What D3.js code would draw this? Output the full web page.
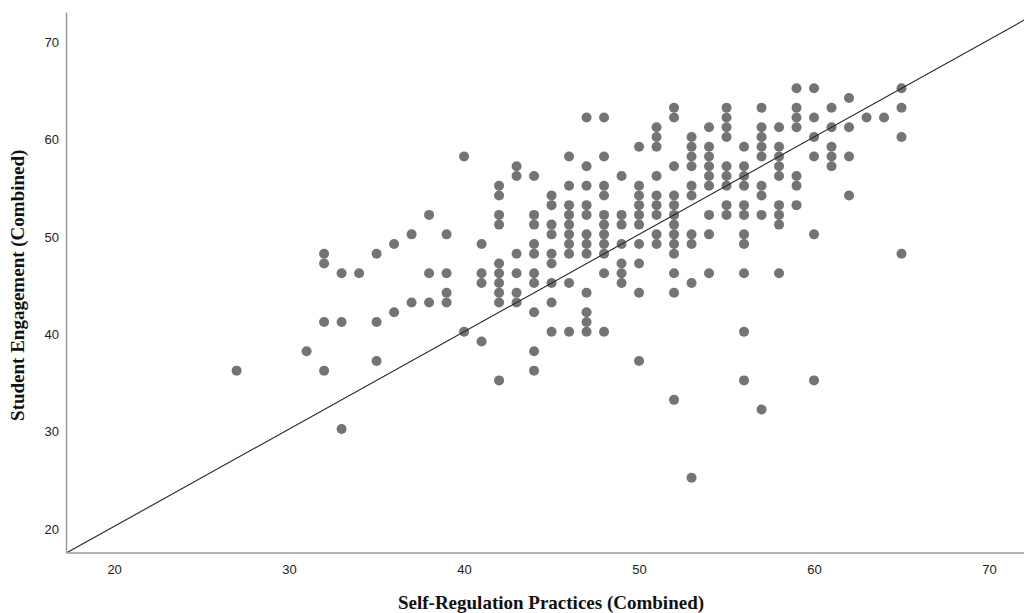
<!DOCTYPE html>
<html>
<head>
<meta charset="utf-8">
<script src="https://cdn.jsdelivr.net/npm/d3@7"></script>
<style>
  html, body { margin: 0; padding: 0; background: #ffffff; }
  svg { display: block; }
</style>
</head>
<body>
<svg id="chart" width="1024" height="613"></svg>
<script>
// Tick values for both axes
const xTicks = [20, 30, 40, 50, 60, 70];
const yTicks = [20, 30, 40, 50, 60, 70];

// Combined scores per student: self-regulation practices (x) and engagement (y)
const regulation = [
  27,
  31,
  32, 32, 32, 32,
  33, 33, 33,
  34,
  35, 35, 35,
  36, 36,
  37, 37,
  38, 38, 38,
  39, 39, 39, 39,
  40, 40,
  41, 41, 41, 41,
  42, 42, 42, 42, 42, 42, 42, 42, 42, 42,
  43, 43, 43, 43, 43, 43,
  44, 44, 44, 44, 44, 44, 44, 44, 44, 44,
  45, 45, 45, 45, 45, 45, 45, 45, 45,
  46, 46, 46, 46, 46, 46, 46, 46, 46, 46,
  47, 47, 47, 47, 47, 47, 47, 47, 47, 47, 47, 47,
  48, 48, 48, 48, 48, 48, 48, 48, 48, 48, 48,
  49, 49, 49, 49, 49, 49, 49,
  50, 50, 50, 50, 50, 50, 50, 50, 50, 50,
  51, 51, 51, 51, 51, 51, 51, 51, 51,
  52, 52, 52, 52, 52, 52, 52, 52, 52, 52, 52, 52, 52,
  53, 53, 53, 53, 53, 53, 53, 53, 53, 53,
  54, 54, 54, 54, 54, 54, 54, 54, 54,
  55, 55, 55, 55, 55, 55, 55, 55, 55,
  56, 56, 56, 56, 56, 56, 56, 56, 56, 56, 56,
  57, 57, 57, 57, 57, 57, 57, 57, 57,
  58, 58, 58, 58, 58, 58, 58, 58, 58,
  59, 59, 59, 59, 59, 59, 59,
  60, 60, 60, 60, 60, 60,
  61, 61, 61, 61, 61,
  62, 62, 62, 62,
  63,
  64,
  65, 65, 65, 65
];
const engagement = [
  36,
  38,
  48, 47, 41, 36,
  46, 41, 30,
  46,
  48, 41, 37,
  49, 42,
  50, 43,
  52, 46, 43,
  50, 46, 44, 43,
  58, 40,
  49, 46, 45, 39,
  55, 54, 52, 51, 47, 46, 45, 44, 43, 35,
  57, 56, 48, 46, 44, 43,
  56, 52, 51, 49, 48, 46, 45, 42, 38, 36,
  54, 53, 51, 50, 48, 47, 45, 43, 40,
  58, 55, 53, 52, 51, 50, 49, 48, 45, 40,
  62, 57, 55, 53, 52, 50, 49, 48, 44, 42, 41, 40,
  62, 58, 55, 54, 52, 51, 50, 49, 48, 46, 40,
  56, 52, 51, 49, 47, 46, 45,
  59, 55, 54, 53, 52, 51, 49, 47, 44, 37,
  61, 60, 59, 56, 54, 53, 52, 50, 49,
  63, 62, 57, 54, 53, 52, 51, 50, 49, 48, 46, 44, 33,
  60, 59, 58, 57, 55, 54, 50, 49, 45, 25,
  61, 59, 58, 57, 56, 55, 52, 50, 46,
  63, 62, 61, 60, 57, 56, 55, 53, 52,
  59, 57, 56, 55, 53, 52, 50, 49, 46, 40, 35,
  63, 61, 60, 59, 58, 55, 54, 52, 32,
  61, 59, 58, 57, 56, 53, 52, 51, 46,
  65, 63, 62, 61, 56, 55, 53,
  65, 62, 60, 58, 50, 35,
  63, 61, 59, 58, 57,
  64, 61, 58, 54,
  62,
  62,
  65, 63, 60, 48
];

// Reference line y = x, drawn between these two values
const identityLine = [15, 75];

const xLabel = "Self-Regulation Practices (Combined)";
const yLabel = "Student Engagement (Combined)";

const svg = d3.select("#chart");
const plot = { left: 66, right: 1024, top: 12, bottom: 552.5 };

const x = d3.scaleLinear().domain([17.25, 72.0]).range([plot.left, plot.right]);
const y = d3.scaleLinear().domain([17.32, 72.84]).range([plot.bottom, plot.top]);

svg.append("defs").append("clipPath").attr("id", "plot-clip")
  .append("rect")
  .attr("x", plot.left).attr("y", plot.top)
  .attr("width", plot.right - plot.left).attr("height", plot.bottom - plot.top);

const points = regulation.map((v, i) => ({ x: v, y: engagement[i] }));

// Scatter points
svg.append("g")
  .attr("clip-path", "url(#plot-clip)")
  .selectAll("circle")
  .data(points)
  .join("circle")
  .attr("cx", d => x(d.x))
  .attr("cy", d => y(d.y))
  .attr("r", 5)
  .attr("fill", "#747474");

// y = x reference line
svg.append("line")
  .attr("clip-path", "url(#plot-clip)")
  .attr("x1", x(identityLine[0])).attr("y1", y(identityLine[0]))
  .attr("x2", x(identityLine[1])).attr("y2", y(identityLine[1]))
  .attr("stroke", "#262626")
  .attr("stroke-width", 1.1);

// Axes
const tickFont = "'Liberation Sans', Arial, sans-serif";

const xAxis = svg.append("g")
  .attr("transform", `translate(0,${plot.bottom})`)
  .call(d3.axisBottom(x).tickValues(xTicks).tickSize(0).tickSizeOuter(0).tickPadding(12.4));

const yAxis = svg.append("g")
  .attr("transform", `translate(${plot.left},0)`)
  .call(d3.axisLeft(y).tickValues(yTicks).tickSize(0).tickSizeOuter(0).tickPadding(7));

[xAxis, yAxis].forEach(g => {
  g.select(".domain").attr("stroke", "#9a9a9a").attr("stroke-width", 1.5);
  g.selectAll("text")
    .attr("font-family", tickFont)
    .attr("font-size", 13)
    .attr("fill", "#222");
});
yAxis.selectAll("text").attr("dy", "0.52em");

// Axis titles
const titleFont = "'Liberation Serif', 'Times New Roman', serif";

svg.append("text")
  .attr("x", (plot.left + plot.right) / 2 + 6)
  .attr("y", 609)
  .attr("text-anchor", "middle")
  .attr("font-family", titleFont)
  .attr("font-weight", "bold")
  .attr("font-size", 19)
  .attr("fill", "#111")
  .text(xLabel);

svg.append("text")
  .attr("transform", `translate(24,${(plot.top + plot.bottom) / 2 + 3}) rotate(-90)`)
  .attr("text-anchor", "middle")
  .attr("font-family", titleFont)
  .attr("font-weight", "bold")
  .attr("font-size", 19)
  .attr("fill", "#111")
  .text(yLabel);
</script>
</body>
</html>
